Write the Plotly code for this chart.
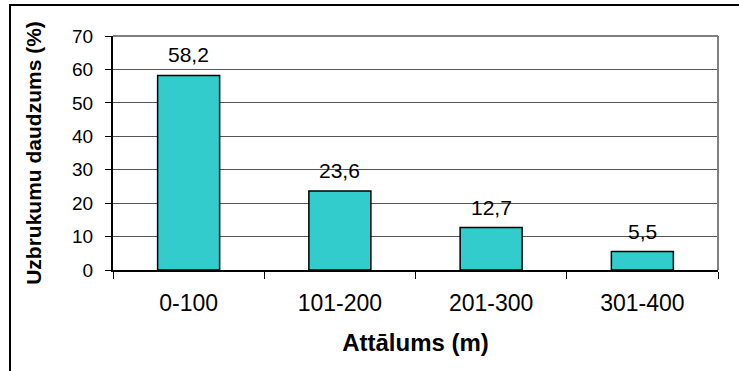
import plotly.graph_objects as go

# Attack counts by distance range
categories = ["0-100", "101-200", "201-300", "301-400"]
values = [58.2, 23.6, 12.7, 5.5]
y_ticks = [0, 10, 20, 30, 40, 50, 60, 70]

FONT = "Arial, Liberation Sans, sans-serif"
W, H = 739, 371
L, R, T, B = 113, 21, 36, 101
pw, ph = W - L - R, H - T - B


def px_to_paper_x(px):
    return (px - L) / pw


def px_to_paper_y(py):
    return (H - B - py) / ph


fig = go.Figure()
fig.add_trace(go.Bar(
    x=categories,
    y=values,
    width=0.41,
    marker=dict(color="#33CCCC", line=dict(color="#000000", width=1.5)),
    hoverinfo="skip",
))

# value labels above the bars, comma as decimal separator
for c, v in zip(categories, values):
    fig.add_annotation(
        x=c, y=v, xref="x", yref="y",
        text=f"{v:.1f}".replace(".", ","),
        showarrow=False, yanchor="bottom", yshift=7,
        font=dict(family=FONT, size=21, color="#000000"),
    )

shapes = [
    # outer chart frame
    dict(type="rect", xref="paper", yref="paper",
         x0=px_to_paper_x(10), x1=px_to_paper_x(760),
         y0=px_to_paper_y(400), y1=px_to_paper_y(5),
         line=dict(color="#000000", width=2), layer="above"),
    # plot area border (top and right)
    dict(type="line", xref="paper", yref="paper", x0=0, x1=1, y0=1, y1=1,
         line=dict(color="#808080", width=2), layer="above"),
    dict(type="line", xref="paper", yref="paper", x0=1, x1=1, y0=0, y1=1,
         line=dict(color="#808080", width=2), layer="above"),
]

fig.update_layout(
    width=W, height=H,
    margin=dict(l=L, r=R, t=T, b=B),
    paper_bgcolor="white", plot_bgcolor="white",
    showlegend=False,
    font=dict(family=FONT, size=18, color="#000000"),
    shapes=shapes,
    xaxis=dict(
        type="category",
        tickson="boundaries",
        ticks="outside", ticklen=7, tickcolor="#000000", tickwidth=1,
        showline=True, linecolor="#000000", linewidth=2,
        showgrid=False,
        tickfont=dict(family=FONT, size=23),
        ticklabelstandoff=11,
        title=dict(text="<b>Attālums (m)</b>", font=dict(family=FONT, size=24), standoff=20),
    ),
    yaxis=dict(
        range=[0, 70],
        tickvals=y_ticks,
        ticks="outside", ticklen=6, tickcolor="#000000", tickwidth=1,
        showline=True, linecolor="#000000", linewidth=2,
        showgrid=True, gridcolor="#555555", gridwidth=1,
        zeroline=False,
        tickfont=dict(family=FONT, size=19),
        ticklabelstandoff=8,
        title=dict(text="<b>Uzbrukumu daudzums (%)</b>", font=dict(family=FONT, size=21), standoff=25),
    ),
)

fig.write_html("out.html")
